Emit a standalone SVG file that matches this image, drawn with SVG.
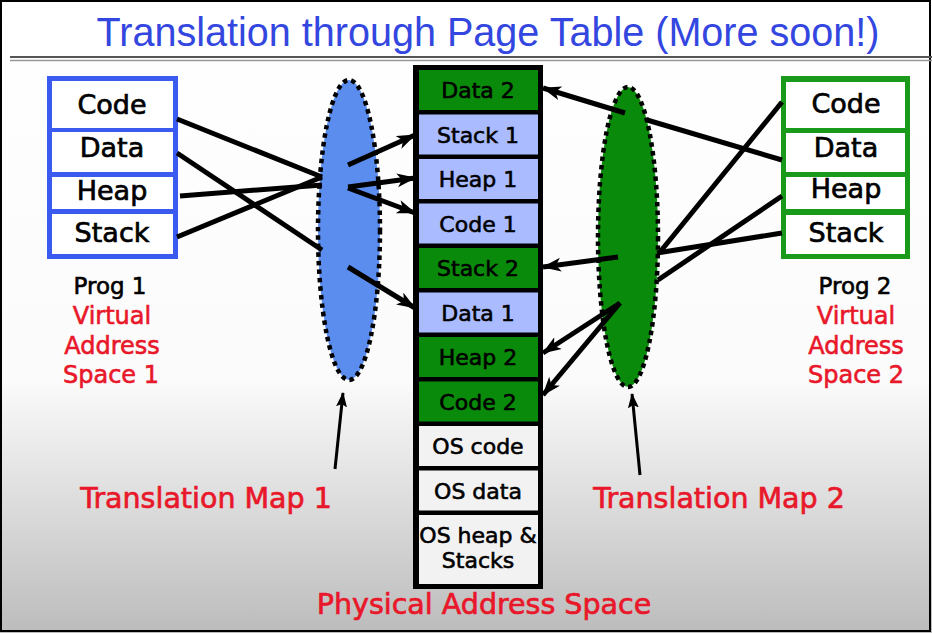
<svg xmlns="http://www.w3.org/2000/svg" width="932" height="633" viewBox="0 0 932 633">
<defs>
<linearGradient id="bg" x1="0" y1="0" x2="0" y2="1">
<stop offset="0" stop-color="#ffffff"/>
<stop offset="0.6" stop-color="#fbfbfb"/>
<stop offset="1" stop-color="#bcbcbc"/>
</linearGradient>
<marker id="ah" markerUnits="userSpaceOnUse" markerWidth="22" markerHeight="16" refX="18" refY="7" orient="auto">
<path d="M0,0 L19,7 L0,14 L5,7 z" fill="#000"/>
</marker>
<marker id="ahs" markerUnits="userSpaceOnUse" markerWidth="16" markerHeight="12" refX="14" refY="5.5" orient="auto">
<path d="M0,0 L15,5.5 L0,11 L3,5.5 z" fill="#000"/>
</marker>
</defs>
<style>
.t{font-family:"DejaVu Sans","Liberation Sans",sans-serif;text-anchor:middle}
.box{font-size:27px;fill:#000;stroke:#000;stroke-width:0.7}
.cell{font-size:22px;fill:#000;stroke:#000;stroke-width:0.6}
.lbl{font-size:23px;fill:#000;stroke:#000;stroke-width:0.6}
.red{font-size:24px;fill:#e8182a;stroke:#e8182a;stroke-width:0.6}
.big{font-size:28.5px;fill:#e8182a;stroke:#e8182a;stroke-width:0.7}
.wc{fill:#ffffff}
.g{fill:#0a8a0a}
.b{fill:#aabbff}
.os{fill:#f2f2f2}
.con line{stroke:#000;stroke-width:5;stroke-linecap:butt}
.ell{stroke:#000;stroke-width:4.5;stroke-dasharray:4.5 4}
</style>
<rect x="0" y="0" width="932" height="633" fill="url(#bg)"/>
<rect x="1" y="1" width="929" height="630" fill="none" stroke="#000" stroke-width="2"/>

<g id="title">
<text x="488" y="46" font-family="Liberation Sans, Arial, sans-serif" font-size="40" fill="#3347e0" text-anchor="middle" textLength="783" lengthAdjust="spacingAndGlyphs">Translation through Page Table (More soon!)</text>
<line x1="10" y1="57" x2="932" y2="57" stroke="#555" stroke-width="2"/>
<line x1="10" y1="60.5" x2="932" y2="60.5" stroke="#999" stroke-width="1.5"/>
</g>

<g id="prog1">
<rect x="47" y="76" width="131" height="183" fill="#3b5bf0"/>
<rect class="wc" x="52" y="81" width="121" height="47"/>
<rect class="wc" x="52" y="132" width="121" height="40"/>
<rect class="wc" x="52" y="177" width="121" height="32"/>
<rect class="wc" x="52" y="214" width="121" height="40"/>
<text class="t box" x="112" y="114">Code</text>
<text class="t box" x="112" y="157">Data</text>
<text class="t box" x="112" y="200">Heap</text>
<text class="t box" x="112" y="242">Stack</text>
<text class="t lbl" x="110" y="294">Prog 1</text>
<text class="t red" x="112" y="324">Virtual</text>
<text class="t red" x="112" y="354">Address</text>
<text class="t red" x="111" y="383">Space 1</text>
</g>

<g id="prog2">
<rect x="781" y="76" width="129" height="183" fill="#1a9a1a"/>
<rect class="wc" x="786" y="82" width="119" height="46"/>
<rect class="wc" x="786" y="133" width="119" height="39"/>
<rect class="wc" x="786" y="177" width="119" height="32"/>
<rect class="wc" x="786" y="215" width="119" height="39"/>
<text class="t box" x="846" y="113">Code</text>
<text class="t box" x="846" y="157">Data</text>
<text class="t box" x="846" y="198">Heap</text>
<text class="t box" x="846" y="242">Stack</text>
<text class="t lbl" x="855" y="294">Prog 2</text>
<text class="t red" x="856" y="324">Virtual</text>
<text class="t red" x="856" y="354">Address</text>
<text class="t red" x="856" y="383">Space 2</text>
</g>

<g id="physical">
<rect x="413" y="65" width="130" height="524" fill="#000"/>
<rect class="g" x="419" y="70" width="119" height="40"/>
<rect class="b" x="419" y="114.5" width="119" height="40"/>
<rect class="b" x="419" y="159" width="119" height="40"/>
<rect class="b" x="419" y="203.5" width="119" height="40"/>
<rect class="g" x="419" y="248" width="119" height="40"/>
<rect class="b" x="419" y="292.5" width="119" height="40"/>
<rect class="g" x="419" y="337" width="119" height="40"/>
<rect class="g" x="419" y="381.5" width="119" height="40"/>
<rect class="os" x="419" y="426" width="119" height="40"/>
<rect class="os" x="419" y="470.5" width="119" height="40"/>
<rect class="os" x="419" y="515" width="119" height="69"/>
<text class="t cell" x="478" y="98">Data 2</text>
<text class="t cell" x="478" y="142.5">Stack 1</text>
<text class="t cell" x="478" y="187">Heap 1</text>
<text class="t cell" x="478" y="231.5">Code 1</text>
<text class="t cell" x="478" y="276">Stack 2</text>
<text class="t cell" x="478" y="320.5">Data 1</text>
<text class="t cell" x="478" y="365">Heap 2</text>
<text class="t cell" x="478" y="409.5">Code 2</text>
<text class="t cell" x="478" y="454">OS code</text>
<text class="t cell" x="478" y="498.5">OS data</text>
<text class="t cell" x="478" y="543">OS heap &amp;</text>
<text class="t cell" x="478" y="568">Stacks</text>
<text class="t big" x="484" y="614">Physical Address Space</text>
</g>

<g id="map1">
<ellipse class="ell" cx="349" cy="230" rx="31" ry="150" fill="#5b8def"/>
<text class="t big" x="206" y="508">Translation Map 1</text>
</g>

<g id="map2">
<ellipse class="ell" cx="628" cy="237" rx="30" ry="150" fill="#0a8a0a"/>
<text class="t big" x="719" y="508">Translation Map 2</text>
</g>

<g id="connectors" class="con">
<line x1="177" y1="119" x2="322" y2="177"/>
<line x1="177" y1="153" x2="322" y2="250"/>
<line x1="180" y1="196" x2="322" y2="185"/>
<line x1="177" y1="237" x2="322" y2="177"/>
<line x1="348" y1="165" x2="415" y2="135" marker-end="url(#ah)"/>
<line x1="348" y1="187" x2="415" y2="178" marker-end="url(#ah)"/>
<line x1="348" y1="188" x2="415" y2="213" marker-end="url(#ah)"/>
<line x1="348" y1="267" x2="415" y2="308" marker-end="url(#ah)"/>
<line x1="782" y1="160" x2="647" y2="120"/>
<line x1="625" y1="113" x2="543" y2="88" marker-end="url(#ah)"/>
<line x1="782" y1="102" x2="660" y2="252"/>
<line x1="782" y1="233" x2="657" y2="253"/>
<line x1="782" y1="196" x2="658" y2="280"/>
<line x1="618" y1="257" x2="543" y2="267" marker-end="url(#ah)"/>
<line x1="620" y1="303" x2="543" y2="353" marker-end="url(#ah)"/>
<line x1="620" y1="303" x2="543" y2="395" marker-end="url(#ah)"/>
<line x1="335" y1="469" x2="343" y2="393" style="stroke-width:3" marker-end="url(#ahs)"/>
<line x1="640" y1="475" x2="632" y2="394" style="stroke-width:3" marker-end="url(#ahs)"/>
</g>
</svg>
